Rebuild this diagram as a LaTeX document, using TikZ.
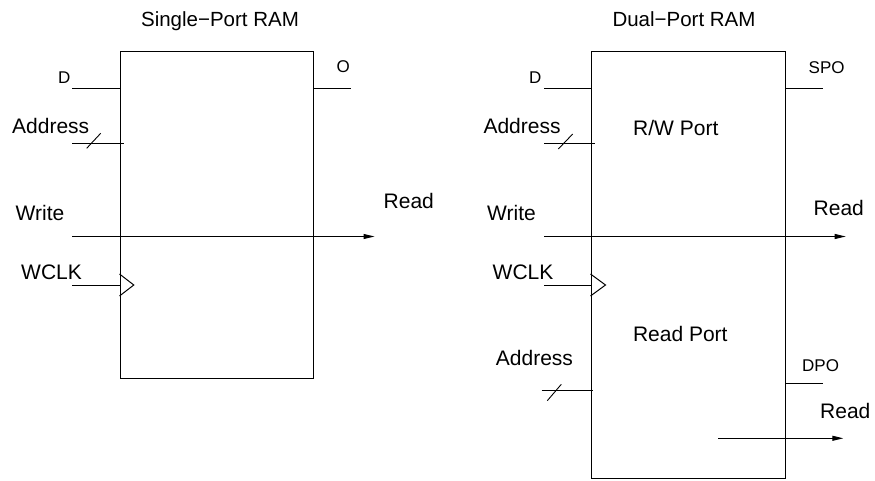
\documentclass[tikz,border=0pt]{standalone}
\usepackage{fontspec}
\setmainfont{Liberation Sans}
\usetikzlibrary{arrows.meta,calc}
\begin{document}
\begin{tikzpicture}[x=1pt,y=-1pt,
  ram/.style={draw, line width=1pt, inner sep=0pt, rectangle},
  wire/.style={line width=1pt},
  slash/.style={line width=0.9pt},
  arr/.style={line width=1pt, -{Triangle[length=11pt,width=5pt]}},
  big/.style={font=\fontsize{21}{25}\selectfont, inner sep=0pt, anchor=base west},
  small/.style={font=\fontsize{17}{20}\selectfont, inner sep=0pt, anchor=base west},
  ttl/.style={font=\fontsize{20.5}{24}\selectfont, inner sep=0pt, anchor=base}]
\useasboundingbox (0,0) rectangle (875,481);

% ---------- Single-Port RAM ----------
\node[ttl] (t1) at (220,26.7) {Single−Port RAM};
\node[ram, minimum width=193pt, minimum height=326pt] (sp) at (216.5,215) {};

\coordinate (spD) at (72,89);
\draw[wire] (spD) -- (spD -| sp.west);
\node[small] (lspD) at (58,84) {D};

\coordinate (spO) at (351,89);
\draw[wire] (spO -| sp.east) -- (spO);
\node[small] (lspO) at (336.5,73) {O};

\coordinate (spA) at (72,144);
\draw[wire] (spA) -- ($(spA -| sp.west)+(4,0)$);
\draw[slash] ($(spA)+(14.7,4.3)$) -- ++(14,-15);
\node[big] (lspA) at (12,133.3) {Address};

\coordinate (spWi) at (72,236.5);
\coordinate (spWo) at (374.5,236.5);
\draw[arr] (spWi) -- (spWo);
\node[big] (lspW) at (15.5,220) {Write};
\node[big] (lspR) at (383.5,208.3) {Read};

\coordinate (spC) at (72,285);
\draw[wire] (spC) -- (spC -| sp.west);
\draw[wire] ($(spC -| sp.west)+(0,-11)$) -- ++(14.3,11) -- ++(-14.3,11);
\node[big] (lspC) at (21,279.3) {WCLK};

% ---------- Dual-Port RAM ----------
\node[ttl] (t2) at (684,26.7) {Dual−Port RAM};
\node[ram, minimum width=194pt, minimum height=426pt] (dp) at (688,265) {};

\node[big] (lrw) at (633,136) {R/W Port};
\node[big] (lrp) at (632.8,341.7) {Read Port};

\coordinate (dpD) at (544,89);
\draw[wire] (dpD) -- (dpD -| dp.west);
\node[small] (ldpD) at (529,84) {D};

\coordinate (dpS) at (822.7,89);
\draw[wire] (dpS -| dp.east) -- (dpS);
\node[small] (ldpS) at (808.5,73.3) {SPO};

\coordinate (dpA) at (544,144);
\draw[wire] (dpA) -- ($(dpA -| dp.west)+(4,0)$);
\draw[slash] ($(dpA)+(14.3,5)$) -- ++(14.4,-15);
\node[big] (ldpA) at (483.3,133.3) {Address};

\coordinate (dpWi) at (544,236.5);
\coordinate (dpWo) at (845.7,236.5);
\draw[arr] (dpWi) -- (dpWo);
\node[big] (ldpW) at (487,220) {Write};
\node[big] (ldpR) at (813.5,215) {Read};

\coordinate (dpC) at (544,285);
\draw[wire] (dpC) -- (dpC -| dp.west);
\draw[wire] ($(dpC -| dp.west)+(0,-11)$) -- ++(15,11) -- ++(-15,11);
\node[big] (ldpC) at (492.5,279.3) {WCLK};

\coordinate (dpA2) at (541.7,390);
\draw[wire] (dpA2) -- ($(dpA2 -| dp.west)+(2,0)$);
\draw[slash] ($(dpA2)+(5.6,10.7)$) -- ++(14,-16.4);
\node[big] (ldpA2) at (495.7,365) {Address};

\coordinate (dpP) at (822.7,383.7);
\draw[wire] (dpP -| dp.east) -- (dpP);
\node[small] (ldpP) at (802,371.7) {DPO};

\coordinate (dpRi) at (718,438.3);
\coordinate (dpRo) at (843.3,438.3);
\draw[arr] (dpRi) -- (dpRo);
\node[big] (ldpR2) at (820,418.3) {Read};
\end{tikzpicture}
\end{document}
